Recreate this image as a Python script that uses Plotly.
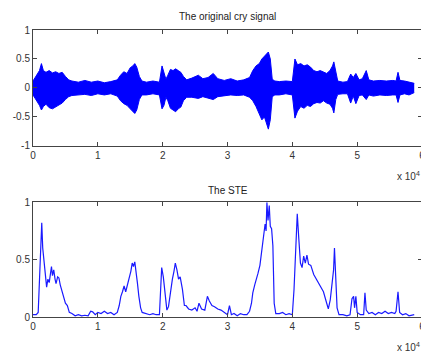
import plotly.graph_objects as go

# ---- data ----
env_x = [0, 500, 1000, 1300, 1600, 2000, 2500, 3000, 3500, 4000, 4500, 5000, 5500, 6000, 7000, 8000,
         9000, 10000, 11000, 12000, 13000, 13500, 14000, 14500, 15000, 15400, 15700, 16000, 16400, 16800,
         17500, 18500, 19500, 19900, 20200, 20500, 20800, 21200, 21600, 22000, 22400, 22800, 23200, 23700,
         24500, 25500, 26200, 27000, 27800, 28500, 29500, 30500, 31500, 32500, 33400, 33900, 34400, 34900,
         35300, 35700, 36000, 36300, 36600, 36900, 37300, 38000, 39000, 40000, 40400, 40800, 41300, 41800,
         42300, 42800, 43300, 43800, 44300, 44800, 45300, 45800, 46200, 46400, 46700, 47000, 47800, 48500,
         49000, 49400, 49800, 50300, 50800, 51400, 51800, 52500, 53500, 54500, 55500, 56000, 56300, 56600,
         57300, 58000, 58800]
env_upper = [0.12, 0.2, 0.3, 0.42, 0.3, 0.27, 0.3, 0.26, 0.28, 0.25, 0.27, 0.2, 0.14, 0.12, 0.1, 0.13,
             0.1, 0.12, 0.09, 0.11, 0.14, 0.22, 0.28, 0.25, 0.35, 0.38, 0.42, 0.36, 0.2, 0.12,
             0.1, 0.12, 0.1, 0.38, 0.28, 0.15, 0.22, 0.32, 0.3, 0.33, 0.3, 0.27, 0.2, 0.14,
             0.17, 0.22, 0.16, 0.18, 0.25, 0.16, 0.13, 0.16, 0.12, 0.14, 0.18, 0.3, 0.38, 0.42,
             0.5, 0.55, 0.58, 0.62, 0.5, 0.15, 0.12, 0.11, 0.12, 0.11, 0.5, 0.4, 0.42, 0.38,
             0.4, 0.36, 0.3, 0.28, 0.3, 0.27, 0.25, 0.3, 0.38, 0.45, 0.25, 0.12, 0.1, 0.11,
             0.24, 0.18, 0.25, 0.14, 0.16, 0.3, 0.14, 0.12, 0.13, 0.12, 0.13, 0.12, 0.27, 0.13,
             0.12, 0.1, 0.08]
env_lower = [-0.12, -0.2, -0.3, -0.38, -0.32, -0.28, -0.34, -0.36, -0.33, -0.3, -0.26, -0.2, -0.15, -0.13, -0.12, -0.11,
             -0.13, -0.1, -0.12, -0.1, -0.14, -0.22, -0.27, -0.3, -0.36, -0.4, -0.44, -0.38, -0.2, -0.12,
             -0.12, -0.1, -0.12, -0.36, -0.3, -0.16, -0.22, -0.35, -0.38, -0.41, -0.36, -0.33, -0.22, -0.16,
             -0.16, -0.18, -0.15, -0.17, -0.2, -0.15, -0.14, -0.12, -0.13, -0.12, -0.16, -0.22, -0.32, -0.45,
             -0.55, -0.5, -0.6, -0.71, -0.55, -0.15, -0.12, -0.12, -0.1, -0.12, -0.52, -0.4, -0.32, -0.35,
             -0.3, -0.32, -0.27, -0.25, -0.26, -0.22, -0.26, -0.28, -0.35, -0.43, -0.2, -0.11, -0.1, -0.1,
             -0.26, -0.14, -0.27, -0.13, -0.12, -0.2, -0.12, -0.14, -0.12, -0.13, -0.12, -0.12, -0.25, -0.12,
             -0.1, -0.12, -0.08]

ste_x = [0, 500, 800, 1000, 1200, 1350, 1500, 1650, 1800, 2000, 2100, 2300, 2500, 2700, 2850, 3000, 3200,
         3400, 3550, 3800, 4000, 4200, 4400, 4600, 4800, 5000, 5300, 5600, 6000, 6500, 7000, 7500, 8000,
         8500, 8900, 9200, 9600, 10000, 10500, 11000, 11500, 12000, 12500, 13000, 13300, 13550, 13800,
         14050, 14300, 14500, 14800, 15100, 15300, 15500, 15700, 15900, 16100, 16330, 16600, 16840, 17500,
         18000, 18500, 19000, 19500, 19700, 19850, 20100, 20400, 20650, 20900, 21200, 21500, 21750, 21950,
         22200, 22450, 22700, 22900, 23050, 23350, 23600, 24000, 24500, 25000, 25300, 25600, 26000, 26500,
         26900, 27200, 27600, 28000, 28500, 29000, 29500, 30000, 30300, 30600, 31000, 31500, 32000, 32500,
         33000, 33400, 33700, 33900, 34200, 34400, 34700, 35000, 35100, 35350, 35570, 35800, 35950, 36080,
         36250, 36440, 36600, 36800, 37000, 37200, 37450, 38000, 38500, 39000, 39500, 40000, 40260, 40500,
         40760, 41000, 41250, 41500, 41750, 42000, 42250, 42500, 42850, 43300, 43800, 44300, 44800, 45300,
         45550, 45850, 46100, 46360, 46500, 46700, 46900, 47200, 47800, 48400, 48900, 49200, 49450, 49600,
         49800, 50000, 50500, 51000, 51200, 51400, 51800, 52300, 52800, 53300, 53800, 54300, 54800, 55300,
         55800, 56000, 56300, 56550, 57000, 57500, 58000, 58800]
ste_y = [0.02, 0.02, 0.04, 0.3, 0.6, 0.82, 0.6, 0.52, 0.44, 0.3, 0.26, 0.33, 0.3, 0.38, 0.44, 0.36, 0.41,
         0.33, 0.29, 0.35, 0.34, 0.28, 0.24, 0.2, 0.14, 0.12, 0.1, 0.04, 0.03, 0.01, 0.02, 0.01, 0.015,
         0.01, 0.05, 0.045, 0.02, 0.04, 0.03, 0.05, 0.03, 0.04, 0.02, 0.04, 0.1, 0.18, 0.22,
         0.27, 0.22, 0.26, 0.33, 0.4, 0.47, 0.44, 0.48, 0.4, 0.3, 0.18, 0.08, 0.04, 0.03,
         0.02, 0.03, 0.02, 0.02, 0.2, 0.43, 0.35, 0.21, 0.06, 0.09, 0.22, 0.33, 0.4, 0.47,
         0.41, 0.33, 0.35, 0.3, 0.24, 0.1, 0.1, 0.07, 0.06, 0.08, 0.05, 0.12, 0.07, 0.06,
         0.18, 0.14, 0.1, 0.09, 0.07, 0.06, 0.04, 0.02, 0.1, 0.02, 0.03, 0.01, 0.03, 0.02,
         0.02, 0.05, 0.12, 0.21, 0.28, 0.33, 0.38, 0.45, 0.5, 0.63, 0.69, 0.81, 0.75, 1.0,
         0.84, 0.97, 0.79, 0.77, 0.62, 0.12, 0.03, 0.03, 0.04, 0.02, 0.03, 0.02, 0.24, 0.62,
         0.9, 0.68, 0.47, 0.43, 0.53, 0.47, 0.54, 0.46, 0.45, 0.37, 0.32, 0.28, 0.22, 0.12,
         0.07, 0.15, 0.28, 0.41, 0.6, 0.32, 0.08, 0.02, 0.02, 0.01, 0.02, 0.16, 0.18, 0.08,
         0.18, 0.04, 0.02, 0.02, 0.21, 0.06, 0.03, 0.04, 0.02, 0.04, 0.03, 0.05, 0.03, 0.04,
         0.03, 0.05, 0.22, 0.04, 0.02, 0.03, 0.01, 0.02]

x_tickvals = [0, 10000, 20000, 30000, 40000, 50000, 60000]
x_ticktext = ["0", "1", "2", "3", "4", "5", "6"]
y1_tickvals = [-1, -0.5, 0, 0.5, 1]
y1_ticktext = ["-1", "-0.5", "0", "0.5", "1"]
y2_tickvals = [0, 0.5, 1]
y2_ticktext = ["0", "0.5", "1"]

BLUE = "#0000ff"
FONT = "Liberation Sans"

fig = go.Figure()
# waveform drawn as band between envelopes
fig.add_trace(go.Scatter(x=env_x, y=env_lower, mode="lines", line=dict(color=BLUE, width=1),
                         xaxis="x", yaxis="y", showlegend=False, hoverinfo="skip"))
fig.add_trace(go.Scatter(x=env_x, y=env_upper, mode="lines", line=dict(color=BLUE, width=1),
                         fill="tonexty", fillcolor=BLUE,
                         xaxis="x", yaxis="y", showlegend=False, hoverinfo="skip"))
fig.add_trace(go.Scatter(x=ste_x, y=ste_y, mode="lines", line=dict(color="#1a1aff", width=1.2),
                         xaxis="x2", yaxis="y2", showlegend=False))

axis_common = dict(showline=True, linecolor="#444", linewidth=1, mirror="allticks", ticks="inside",
                   ticklen=4, tickcolor="#444", showgrid=False, zeroline=False,
                   tickfont=dict(family=FONT, size=10, color="#333"))

fig.update_layout(
    width=421, height=348,
    margin=dict(l=25, r=4, t=22, b=39),
    paper_bgcolor="white", plot_bgcolor="white",
    xaxis=dict(axis_common, range=[0, 60000], tickvals=x_tickvals, ticktext=x_ticktext, anchor="y"),
    yaxis=dict(axis_common, range=[-1, 1], tickvals=y1_tickvals, ticktext=y1_ticktext,
               domain=[0.596, 1], anchor="x"),
    xaxis2=dict(axis_common, range=[0, 60000], tickvals=x_tickvals, ticktext=x_ticktext, anchor="y2"),
    yaxis2=dict(axis_common, range=[0, 1], tickvals=y2_tickvals, ticktext=y2_ticktext,
                domain=[0, 0.40], anchor="x2"),
    annotations=[
        dict(text="The original cry signal", xref="paper", yref="paper", x=0.5, y=1.0, yshift=6,
             xanchor="center", yanchor="bottom", showarrow=False,
             font=dict(family=FONT, size=10, color="#222")),
        dict(text="The STE", xref="paper", yref="paper", x=0.5, y=0.40, yshift=4,
             xanchor="center", yanchor="bottom", showarrow=False,
             font=dict(family=FONT, size=10, color="#222")),
        dict(text="x 10<sup>4</sup>", xref="paper", yref="paper", x=1.0, y=0.596, yshift=-22,
             xanchor="right", yanchor="top", showarrow=False,
             font=dict(family=FONT, size=10, color="#333")),
        dict(text="x 10<sup>4</sup>", xref="paper", yref="paper", x=1.0, y=0.0, yshift=-22,
             xanchor="right", yanchor="top", showarrow=False,
             font=dict(family=FONT, size=10, color="#333")),
    ],
)

fig.write_html("out.html")
